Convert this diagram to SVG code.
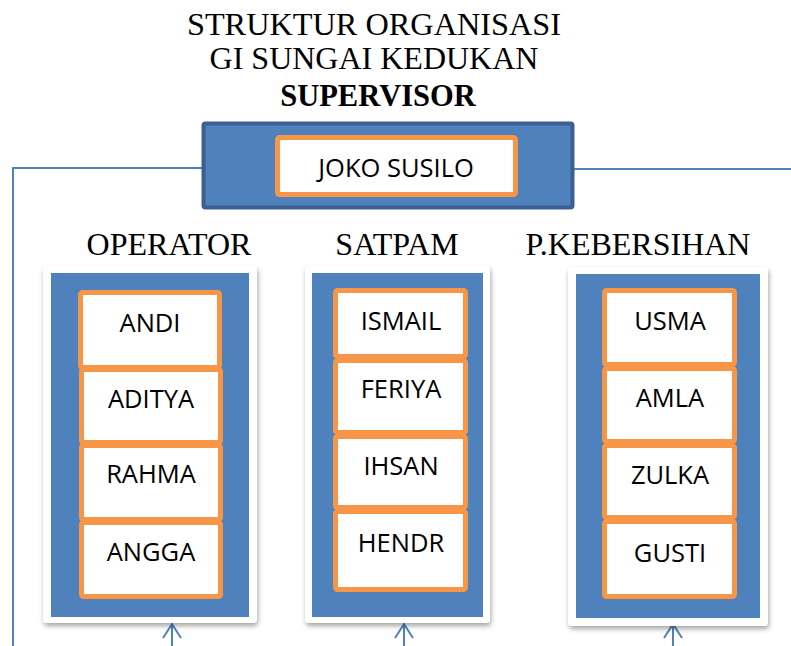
<svg xmlns="http://www.w3.org/2000/svg" width="791" height="646" viewBox="0 0 791 646">
<style>
.title{font-family:"Liberation Serif","Times New Roman",serif;fill:#000;text-anchor:middle}
.nm{fill:#fff;stroke:#f79646;stroke-width:5}
.nt{font-family:"Open Sans","Liberation Sans",sans-serif;font-size:25.5px;fill:#000;text-anchor:middle}
.card{fill:#fff;filter:url(#sh)}
.panel{fill:#4f81bd}
.conn{fill:none;stroke:#4f81bd;stroke-width:2}
</style>
<defs>
<filter id="sh" x="-10%" y="-10%" width="125%" height="125%">
<feDropShadow dx="1" dy="3" stdDeviation="2.5" flood-color="#000" flood-opacity="0.35"/>
</filter>
</defs>
<rect width="791" height="646" fill="#fff"/>
<g id="title">
<text class="title" x="374" y="35" font-size="32.3">STRUKTUR ORGANISASI</text>
<text class="title" x="374" y="69" font-size="32">GI SUNGAI KEDUKAN</text>
<text class="title" x="378" y="106" font-size="30.5" font-weight="bold">SUPERVISOR</text>
</g>
<g id="connectors">
<path class="conn" d="M12,168 H203 M13,168 V646"/>
<path class="conn" d="M573,169 H791"/>
<path class="conn" stroke-width="2.8" d="M172,646 V624 M163,638 L172,624 L181,638"/>
<path class="conn" stroke-width="2.8" d="M404,646 V624 M395,638 L404,624 L413,638"/>
<path class="conn" stroke-width="2.8" d="M673,646 V624 M664,638 L673,624 L682,638"/>
</g>
<g id="supervisor">
<rect x="203.5" y="123.5" width="369" height="84" rx="2" fill="#4f81bd" stroke="#3b5f92" stroke-width="4"/>
<rect class="nm" x="277.5" y="137.5" width="238" height="57" rx="2"/>
<text class="nt" x="396" y="177">JOKO SUSILO</text>
</g>
<g id="operator">
<text class="title" x="169" y="255" font-size="32">OPERATOR</text>
<rect class="card" x="43" y="266" width="214" height="357" rx="4"/>
<rect class="panel" x="51" y="273" width="198" height="344"/>
<g id="op-andi"><rect class="nm" x="80.5" y="292.5" width="139" height="75" rx="2"/><text class="nt" x="150" y="332">ANDI</text></g>
<g id="op-aditya"><rect class="nm" x="81.5" y="369.5" width="139" height="73" rx="2"/><text class="nt" x="151" y="408">ADITYA</text></g>
<g id="op-rahma"><rect class="nm" x="81.5" y="445.5" width="139" height="74" rx="2"/><text class="nt" x="151" y="483">RAHMA</text></g>
<g id="op-angga"><rect class="nm" x="81.5" y="522.5" width="139" height="74" rx="2"/><text class="nt" x="151" y="561">ANGGA</text></g>
</g>
<g id="satpam">
<text class="title" x="397" y="255" font-size="32">SATPAM</text>
<rect class="card" x="305" y="266" width="185" height="357" rx="4"/>
<rect class="panel" x="312" y="273" width="171" height="344"/>
<g id="sp-ismail"><rect class="nm" x="335.5" y="290.5" width="130" height="66" rx="2"/><text class="nt" x="401" y="330">ISMAIL</text></g>
<g id="sp-feriya"><rect class="nm" x="335.5" y="360.5" width="130" height="72" rx="2"/><text class="nt" x="401" y="398">FERIYA</text></g>
<g id="sp-ihsan"><rect class="nm" x="335.5" y="436.5" width="130" height="71" rx="2"/><text class="nt" x="401" y="475">IHSAN</text></g>
<g id="sp-hendr"><rect class="nm" x="335.5" y="511.5" width="130" height="78" rx="2"/><text class="nt" x="401" y="552">HENDR</text></g>
</g>
<g id="kebersihan">
<text class="title" x="638" y="255" font-size="32">P.KEBERSIHAN</text>
<rect class="card" x="568" y="267" width="200" height="359" rx="4"/>
<rect class="panel" x="576" y="274" width="184" height="344"/>
<g id="kb-usma"><rect class="nm" x="604.5" y="290.5" width="130" height="74" rx="2"/><text class="nt" x="670" y="330">USMA</text></g>
<g id="kb-amla"><rect class="nm" x="604.5" y="368.5" width="130" height="73" rx="2"/><text class="nt" x="670" y="407">AMLA</text></g>
<g id="kb-zulka"><rect class="nm" x="604.5" y="445.5" width="130" height="72" rx="2"/><text class="nt" x="670" y="484">ZULKA</text></g>
<g id="kb-gusti"><rect class="nm" x="604.5" y="521.5" width="130" height="75" rx="2"/><text class="nt" x="670" y="562">GUSTI</text></g>
</g>
</svg>
